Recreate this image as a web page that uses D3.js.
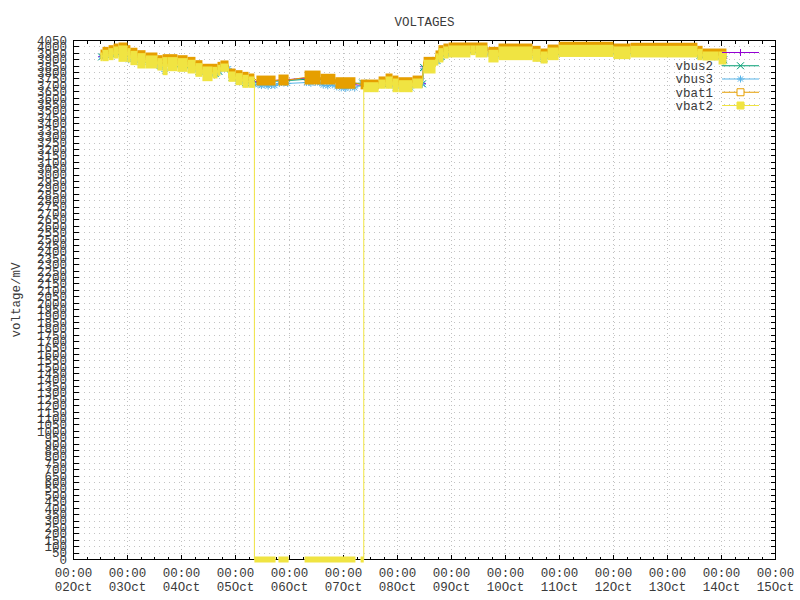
<!DOCTYPE html>
<html>
<head>
<meta charset="utf-8">
<script src="https://d3js.org/d3.v7.min.js"></script>
<style>
  body { margin: 0; background: #fff; }
  svg { display: block; }
  text { font-family: "Liberation Mono", "DejaVu Sans Mono", monospace; font-size: 12.5px; fill: #3a3a3a; }
</style>
</head>
<body>
<svg id="chart" width="800" height="600"></svg>
<script>
// times are hours counted from 02 Oct 00:00

// band series: [start h, end h, high mV, low mV]; null row = break in the line
const vbat1 = [
    [12.0, 12.9, 3956, 3926], [12.9, 15.6, 3977, 3947], [15.6, 17.8, 3990, 3960],
    [17.8, 20.0, 4003, 3973], [20.0, 24.0, 4011, 3981], [24.0, 25.3, 3990, 3960],
    [25.3, 28.4, 3970, 3940], [28.4, 32.0, 3951, 3921], [32.0, 37.3, 3933, 3903],
    [37.3, 39.6, 3912, 3882], [39.6, 46.2, 3920, 3890], [46.2, 50.7, 3912, 3882],
    [50.7, 54.2, 3899, 3869], [54.2, 57.3, 3873, 3843], [57.3, 64.0, 3845, 3815],
    [64.0, 65.3, 3860, 3830], [65.3, 68.9, 3871, 3841], [68.9, 72.0, 3808, 3778],
    [72.0, 75.1, 3795, 3765], [75.1, 77.8, 3782, 3752], [77.8, 80.4, 3769, 3739],
    [81.3, 89.8, 3753, 3722], [91.1, 95.6, 3761, 3722], [102.7, 109.8, 3792, 3730],
    [109.8, 116.4, 3767, 3730], [116.4, 125.3, 3740, 3697], [127.6, 135.6, 3722, 3692],
    [135.6, 138.7, 3746, 3716], [138.7, 141.8, 3769, 3739], [141.8, 144.4, 3753, 3723],
    [144.4, 150.7, 3740, 3710], [150.7, 155.1, 3753, 3723], [155.6, 160.9, 3899, 3869],
    [160.9, 162.2, 3949, 3919], [162.2, 164.4, 3990, 3960], [164.4, 166.7, 4003, 3973],
    [166.7, 184.0, 4011, 3981], [184.4, 188.9, 3977, 3947], [188.9, 204.0, 4003, 3973],
    [204.0, 207.6, 3985, 3955], [207.6, 210.7, 3964, 3934], [210.7, 215.6, 3995, 3965],
    [215.6, 240.0, 4017, 3987], [240.0, 247.6, 4003, 3973], [247.6, 277.3, 4009, 3979],
    [277.3, 279.6, 3985, 3955], [279.6, 290.2, 3964, 3934]
];

const vbat2 = [
    [12.0, 12.9, 3933, 3912], [12.9, 15.6, 3954, 3912], [15.6, 17.8, 3967, 3920],
    [17.8, 20.0, 3980, 3933], [20.0, 24.0, 3988, 3907], [24.0, 25.3, 3967, 3902],
    [25.3, 28.4, 3946, 3881], [28.4, 32.0, 3928, 3855], [32.0, 37.3, 3910, 3855],
    [37.3, 39.6, 3889, 3839], [39.6, 41.8, 3897, 3803], [41.8, 46.2, 3897, 3834],
    [46.2, 50.7, 3889, 3829], [50.7, 54.2, 3876, 3816], [54.2, 57.3, 3850, 3790],
    [57.3, 61.8, 3824, 3756], [61.8, 64.0, 3821, 3777], [64.0, 65.3, 3837, 3798],
    [65.3, 68.9, 3847, 3829], [68.9, 72.0, 3785, 3751], [72.0, 75.1, 3772, 3725],
    [75.1, 77.8, 3759, 3704], [77.8, 80.4, 3746, 3704],
    [80.4, 89.8, 0, 0], null, [91.1, 95.6, 0, 0], null,
    [102.7, 125.3, 0, 0], null, [127.6, 129.0, 0, 0],
    [129.0, 135.6, 3701, 3670], [135.6, 138.7, 3722, 3697], [138.7, 141.8, 3746, 3697],
    [141.8, 144.4, 3730, 3670], [144.4, 150.7, 3717, 3670], [150.7, 155.1, 3730, 3699],
    [155.6, 160.9, 3876, 3816], [160.9, 162.2, 3926, 3878], [162.2, 164.4, 3967, 3902],
    [164.4, 166.7, 3980, 3933], [166.7, 176.4, 3988, 3941], [176.4, 178.7, 3988, 3959],
    [178.7, 184.0, 3988, 3941], [184.4, 188.9, 3954, 3902], [188.9, 204.0, 3980, 3920],
    [204.0, 207.6, 3962, 3907], [207.6, 210.7, 3941, 3894], [210.7, 215.6, 3972, 3920],
    [215.6, 240.0, 3993, 3945], [240.0, 247.6, 3980, 3928], [247.6, 277.3, 3985, 3941],
    [277.3, 279.6, 3962, 3920], [279.6, 286.7, 3941, 3917], [286.7, 290.2, 3941, 3886]
];

// point series: [h, mV]
const vbus1 = [
    [12.5, 3925], [16.7, 3945], [22, 3950], [26.8, 3915], [30, 3890], [35, 3880],
    [38.5, 3860], [44, 3865], [48.5, 3855], [52.5, 3845], [55.8, 3820], [59.5, 3790],
    [63, 3800], [64.6, 3815], [67, 3838], [70.5, 3768], [73.5, 3750], [76.5, 3735],
    [79, 3725], [85, 3737], [93, 3741], [106, 3761], [113, 3748], [121, 3718],
    [132, 3685], [140, 3720], [143, 3700], [147.5, 3695], [153, 3715], [155.1, 3715],
    [155.6, 3846], [158, 3846], [161.5, 3902], [163.3, 3935], [165.5, 3955], [171, 3965],
    [181, 3965], [184.2, 3960], [186.5, 3930], [196, 3950], [206, 3935], [209, 3920],
    [213, 3945], [228, 3970], [244, 3955], [262, 3965], [278.5, 3940], [285, 3930], [289, 3910]
];

const vbus2 = [
    [12.5, 3922], [17, 3940], [22, 3940], [26.8, 3910], [30, 3885], [35, 3875],
    [38.5, 3855], [44, 3850], [48.5, 3845], [52.5, 3835], [55.8, 3810], [59.5, 3775],
    [63, 3795], [64.6, 3810], [67, 3835], [70.5, 3765], [73.5, 3742], [76.5, 3722],
    [79.5, 3720], [85, 3730], [93, 3735], [106, 3750], [113, 3740], [121, 3712],
    [128.5, 3718], [132, 3685], [140, 3715], [147.5, 3690], [153, 3712], [155.1, 3712],
    [155.6, 3840], [158, 3840], [161.5, 3895], [163.3, 3925], [165.5, 3950], [171, 3958],
    [181, 3958], [184.2, 3955], [186.5, 3922], [196, 3940], [206, 3928], [209, 3912],
    [213, 3938], [228, 3962], [244, 3948], [262, 3958], [278.5, 3935], [285, 3928], [289, 3900]
];

const vbus3 = [
    [12.5, 3920], [17, 3935], [22, 3925], [24.5, 3900], [27, 3890], [30, 3865],
    [35, 3865], [38.5, 3845], [40.5, 3810], [44, 3840], [48.5, 3835], [52.5, 3825],
    [55.8, 3800], [59.5, 3765], [63, 3785], [64.6, 3805], [67, 3832], [68.9, 3830],
    [70.5, 3760], [73.5, 3735], [76.5, 3712], [79.5, 3712],
    [82, 3705], [83.5, 3698], [85, 3704], [86.5, 3694], [88, 3702], [89.5, 3698],
    [91.5, 3715], [93.5, 3718], [95.2, 3715], [103.5, 3722], [105.5, 3716], [107.5, 3724],
    [109.5, 3718], [111, 3702], [113, 3696], [115, 3704], [117, 3688], [119, 3680],
    [121, 3676], [123, 3684], [125, 3680], [128.5, 3710],
    [131, 3680], [134, 3675], [137, 3705], [140, 3705], [143, 3680], [147, 3678],
    [150, 3680], [153, 3710], [155.1, 3708], [155.6, 3830], [158, 3825], [161.5, 3885],
    [163.3, 3910], [165.5, 3940], [171, 3948], [177.5, 3965], [181, 3948], [184.2, 3950],
    [186.5, 3910], [196, 3925], [206, 3912], [209, 3900], [213, 3925], [228, 3950],
    [244, 3935], [262, 3948], [278.5, 3925], [285, 3922], [289, 3890]
];

const seriesNames = ["", "vbus2", "vbus3", "vbat1", "vbat2"];
const seriesColors = ["#9400d3", "#009e73", "#56b4e9", "#e69f00", "#f0e442"];
const seriesMarkers = ["plus", "cross", "star", "openSquare", "square"];

const startTime = Date.UTC(2023, 9, 2);
const endTime = Date.UTC(2023, 9, 15);
const yMax = 4050;
const yStep = 50;

const toDate = h => new Date(startTime + h * 3600e3);

const svg = d3.select("#chart");
const plot = { left: 73.5, right: 775.5, top: 40.5, bottom: 559.5 };

const x = d3.scaleUtc().domain([new Date(startTime), new Date(endTime)]).range([plot.left, plot.right]);
const y = d3.scaleLinear().domain([0, yMax]).range([plot.bottom, plot.top]);

const yTicks = d3.range(0, yMax + 1, yStep);
const dayTicks = d3.utcDay.range(new Date(startTime), new Date(endTime + 1));
const minorTicks = d3.utcHour.every(6).range(new Date(startTime), new Date(endTime));

// grid
const grid = svg.append("g").attr("shape-rendering", "crispEdges");
grid.selectAll(".hgrid").data(yTicks.slice(1, -1)).join("line")
    .attr("x1", plot.left).attr("x2", plot.right)
    .attr("y1", d => Math.round(y(d) - 0.5) + 0.5).attr("y2", d => Math.round(y(d) - 0.5) + 0.5)
    .attr("stroke", "#c4c4c4").attr("stroke-dasharray", "1,4");
grid.selectAll(".vgrid").data(dayTicks.slice(1, -1)).join("line")
    .attr("x1", d => Math.round(x(d) - 0.5) + 0.5).attr("x2", d => Math.round(x(d) - 0.5) + 0.5)
    .attr("y1", plot.top).attr("y2", plot.bottom)
    .attr("stroke", "#c0c0c0").attr("stroke-dasharray", "1,3");

// border and ticks
const axis = svg.append("g").attr("shape-rendering", "crispEdges").attr("stroke", "#000");
axis.append("rect").attr("x", plot.left).attr("y", plot.top)
    .attr("width", plot.right - plot.left).attr("height", plot.bottom - plot.top)
    .attr("fill", "none");
yTicks.forEach(v => {
    const yy = Math.round(y(v) - 0.5) + 0.5;
    axis.append("line").attr("x1", plot.left).attr("x2", plot.left + 5).attr("y1", yy).attr("y2", yy);
    axis.append("line").attr("x1", plot.right).attr("x2", plot.right - 5).attr("y1", yy).attr("y2", yy);
});
minorTicks.forEach(d => {
    const xx = Math.round(x(d) - 0.5) + 0.5;
    const len = d.getUTCHours() === 0 ? 5 : 3;
    axis.append("line").attr("x1", xx).attr("x2", xx).attr("y1", plot.bottom).attr("y2", plot.bottom - len);
    axis.append("line").attr("x1", xx).attr("x2", xx).attr("y1", plot.top).attr("y2", plot.top + len);
});

// tick labels
svg.append("g").selectAll("text").data(yTicks).join("text")
    .attr("x", 67).attr("y", d => y(d)).attr("dy", "0.35em")
    .attr("text-anchor", "end").text(d => d);

const fmtTime = d3.utcFormat("%H:%M");
const fmtDay = d3.utcFormat("%d%b");
const xl = svg.append("g").selectAll("g").data(dayTicks).join("g");
xl.append("text").attr("x", d => x(d)).attr("y", 577).attr("text-anchor", "middle").text(fmtTime);
xl.append("text").attr("x", d => x(d)).attr("y", 591).attr("text-anchor", "middle").text(fmtDay);

// titles
svg.append("text").attr("x", (plot.left + plot.right) / 2).attr("y", 26)
    .attr("text-anchor", "middle").text("VOLTAGES");
svg.append("text").attr("transform", `translate(20,${(plot.top + plot.bottom) / 2}) rotate(-90)`)
    .attr("text-anchor", "middle").text("voltage/mV");

// marker shapes
function markerPath(kind, s) {
    if (kind === "plus") return `M${-s},0H${s}M0,${-s}V${s}`;
    if (kind === "cross") return `M${-s},${-s}L${s},${s}M${-s},${s}L${s},${-s}`;
    if (kind === "star") return `M${-s},0H${s}M0,${-s}V${s}M${-s * 0.75},${-s * 0.75}L${s * 0.75},${s * 0.75}M${-s * 0.75},${s * 0.75}L${s * 0.75},${-s * 0.75}`;
    return `M${-s},${-s}H${s}V${s}H${-s}Z`;
}

// point series with lines
function drawPoints(rows, i) {
    const g = svg.append("g");
    g.append("path").datum(rows)
        .attr("d", d3.line().x(d => x(toDate(d[0]))).y(d => y(d[1])))
        .attr("fill", "none").attr("stroke", seriesColors[i]).attr("stroke-width", 1);
    g.selectAll("path.m").data(rows).join("path").attr("class", "m")
        .attr("transform", d => `translate(${x(toDate(d[0]))},${y(d[1])})`)
        .attr("d", markerPath(seriesMarkers[i], 3.5))
        .attr("fill", "none").attr("stroke", seriesColors[i]).attr("stroke-width", 1);
}

// dense marker series shown as bands from high to low over each time span
const ms = 3;
function drawBands(rows, i) {
    const g = svg.append("g");
    const pts = [];
    rows.forEach(r => {
        if (r === null) { pts.push(null); return; }
        const mid = (r[2] + r[3]) / 2;
        pts.push([r[0], mid], [r[1], mid]);
    });
    g.append("path").datum(pts)
        .attr("d", d3.line().defined(d => d !== null).x(d => x(toDate(d[0]))).y(d => y(d[1])))
        .attr("fill", "none").attr("stroke", seriesColors[i]).attr("stroke-width", 1);
    g.selectAll("rect").data(rows.filter(r => r !== null)).join("rect")
        .attr("x", r => x(toDate(r[0])))
        .attr("width", r => Math.max(1, x(toDate(r[1])) - x(toDate(r[0]))))
        .attr("y", r => y(r[2]) - ms)
        .attr("height", r => y(r[3]) - y(r[2]) + 2 * ms)
        .attr("fill", seriesColors[i]);
}

drawPoints(vbus1, 0);
drawPoints(vbus2, 1);
drawPoints(vbus3, 2);
drawBands(vbat1, 3);
drawBands(vbat2, 4);

// legend
const key = svg.append("g");
seriesNames.forEach((name, i) => {
    const ky = 52.5 + i * 13.25;
    key.append("text").attr("x", 713).attr("y", ky).attr("dy", "0.35em")
        .attr("text-anchor", "end").text(name);
    key.append("line").attr("x1", 722).attr("x2", 759).attr("y1", ky).attr("y2", ky)
        .attr("stroke", seriesColors[i]).attr("stroke-width", 1);
    const kind = seriesMarkers[i];
    key.append("path").attr("transform", `translate(740.5,${ky})`)
        .attr("d", markerPath(kind, 3.5))
        .attr("fill", kind === "square" ? seriesColors[i] : (kind === "openSquare" ? "#fff" : "none"))
        .attr("stroke", seriesColors[i]).attr("stroke-width", 1);
});
</script>
</body>
</html>
